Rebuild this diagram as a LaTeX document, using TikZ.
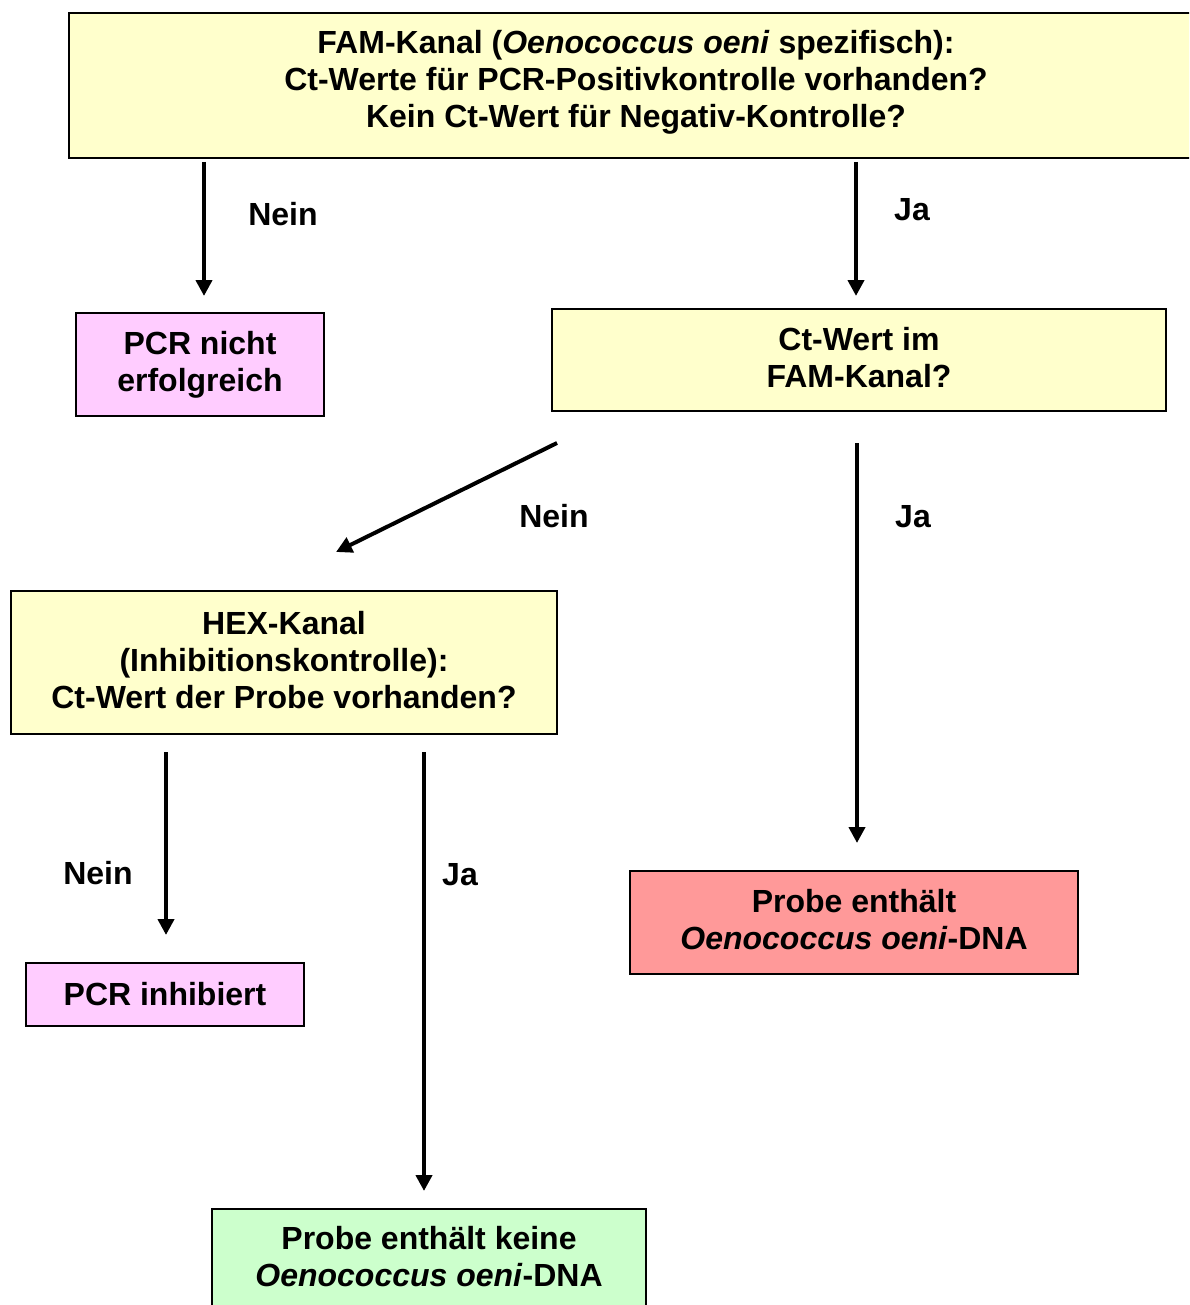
\documentclass[tikz,border=0pt]{standalone}
\usepackage{fontspec}
\setmainfont{Liberation Sans}
\usetikzlibrary{arrows.meta}
\definecolor{byellow}{HTML}{FFFFCC}
\definecolor{bpink}{HTML}{FFCCFF}
\definecolor{bred}{HTML}{FF9999}
\definecolor{bgreen}{HTML}{CCFFCC}
\tikzset{
  box/.style={draw=black, line width=1.3pt, align=center, inner sep=0pt,
    font=\fontsize{24pt}{27.75pt}\selectfont\bfseries},
  lbl/.style={font=\fontsize{24pt}{28pt}\selectfont\bfseries, inner sep=0pt},
  arr/.style={line width=3pt, -{Triangle[length=12pt,width=12pt]}},
}
\begin{document}
\begin{tikzpicture}[x=0.75pt,y=-0.75pt]
\useasboundingbox (0,0) rectangle (1189,1305);
\clip (0,0) rectangle (1189,1305);
\node[box, fill=byellow, minimum width=850.5pt, minimum height=108.75pt, text depth=9.5pt] (top) at (636,85.5)
  {FAM-Kanal (\textit{Oenococcus oeni} spezifisch):\\Ct-Werte für PCR-Positivkontrolle vorhanden?\\Kein Ct-Wert für Negativ-Kontrolle?};
\node[box, fill=bpink, minimum width=186pt, minimum height=77.25pt] (fail) at (200,364.5)
  {PCR nicht\\erfolgreich};
\node[box, fill=byellow, minimum width=460.5pt, minimum height=76.5pt, text depth=4.5pt] (ct) at (859,360)
  {Ct-Wert im\\FAM-Kanal?};
\node[box, fill=byellow, minimum width=409.5pt, minimum height=107.25pt, text depth=4.5pt] (hex) at (284,662.5)
  {HEX-Kanal\\(Inhibitionskontrolle):\\Ct-Wert der Probe vorhanden?};
\node[box, fill=bpink, minimum width=208.5pt, minimum height=47.25pt] (inh) at (165,994.5)
  {PCR inhibiert};
\node[box, fill=bred, minimum width=336pt, minimum height=77.25pt, text depth=4.5pt] (pos) at (854,922.5)
  {Probe enthält\\\textit{Oenococcus oeni}-DNA};
\node[box, fill=bgreen, minimum width=325.5pt, minimum height=77.25pt, text depth=6pt] (neg) at (429,1260.5)
  {Probe enthält keine\\\textit{Oenococcus oeni}-DNA};

\coordinate (a1s) at (204,162); \coordinate (a1e) at (204,296);
\coordinate (a2s) at (856,162); \coordinate (a2e) at (856,296);
\coordinate (a3s) at (557,443); \coordinate (a3e) at (336,552);
\coordinate (a4s) at (857,443); \coordinate (a4e) at (857,843);
\coordinate (a5s) at (166,752); \coordinate (a5e) at (166,935);
\coordinate (a6s) at (424,752); \coordinate (a6e) at (424,1191);

\draw[arr] (a1s) -- (a1e);
\draw[arr] (a2s) -- (a2e);
\draw[arr] (a3s) -- (a3e);
\draw[arr] (a4s) -- (a4e);
\draw[arr] (a5s) -- (a5e);
\draw[arr] (a6s) -- (a6e);

\node[lbl] (l1) at (283,214) {Nein};
\node[lbl] (l2) at (912,210) {Ja};
\node[lbl] (l3) at (554,516) {Nein};
\node[lbl] (l4) at (913,517) {Ja};
\node[lbl] (l5) at (98,873) {Nein};
\node[lbl] (l6) at (460,875) {Ja};
\end{tikzpicture}
\end{document}
